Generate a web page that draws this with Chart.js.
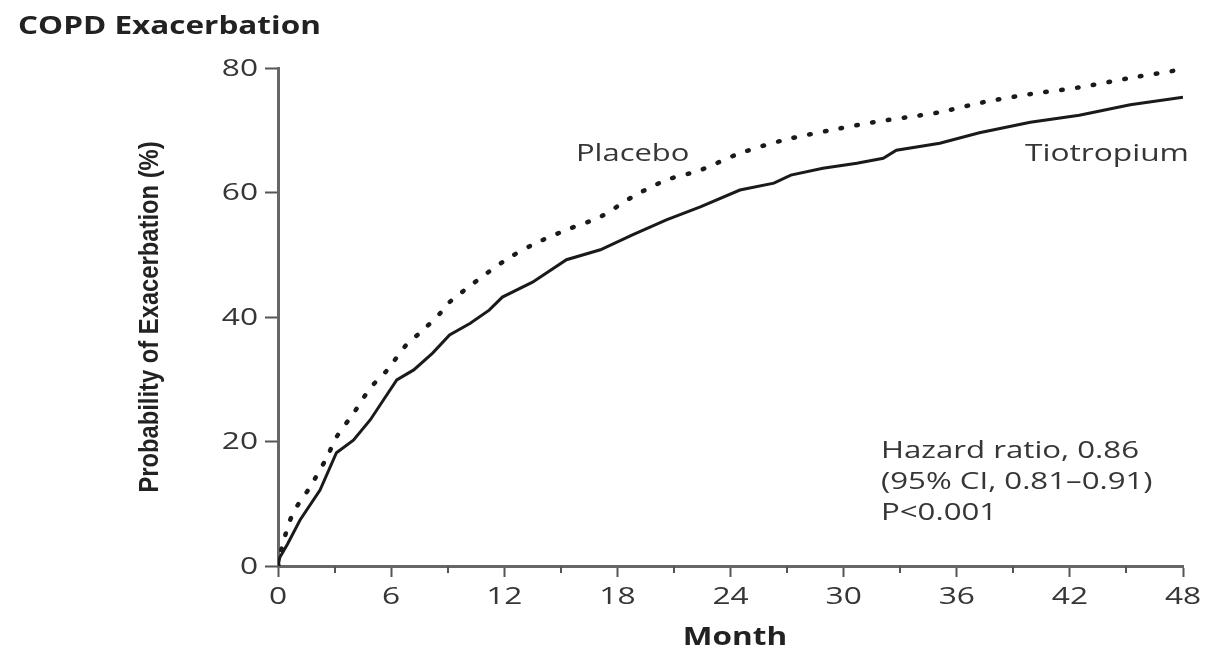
<!DOCTYPE html>
<html>
<head>
<meta charset="utf-8">
<script src="https://cdn.jsdelivr.net/npm/chart.js@4.4.1/dist/chart.umd.min.js"></script>
<style>
  html, body { margin: 0; padding: 0; background: #fff; }
  #wrap { width: 1211px; height: 653px; position: relative; }
</style>
</head>
<body>
<div id="wrap"><canvas id="km"></canvas></div>
<script>
'use strict';

// cumulative probability of a first exacerbation, by month
var tioMonths = [0, 0.1, 0.5, 1.17, 2.23, 3.1, 4.0, 4.9, 5.6, 6.3, 7.2, 8.2, 9.1, 10.2, 11.2, 11.9,
  13.5, 15.3, 17.1, 18.8, 20.6, 22.4, 24.5, 26.3, 27.2, 28.9, 30.7, 32.1, 32.8, 35.1, 37.2,
  39.9, 42.5, 45.2, 48];
var tioValues = [0, 1.4, 3.5, 7.4, 12.2, 18.2, 20.2, 23.5, 26.7, 29.9, 31.5, 34.2, 37.1, 39, 41.1, 43.2,
  45.6, 49.2, 50.8, 53.2, 55.6, 57.7, 60.4, 61.5, 62.8, 63.9, 64.7, 65.5, 66.8, 67.9, 69.6,
  71.3, 72.4, 74.1, 75.3];

var plaMonths = [0, 0.27, 0.8, 1.7, 2.6, 3.1, 4.0, 4.9, 5.8, 6.8, 7.7, 8.6, 9.1, 11.9, 13.5, 15.3,
  17.1, 18.8, 20.6, 22.4, 24.5, 26.8, 29.3, 31.6, 33.4, 35.1, 37.4, 39.9, 42.5, 45.2, 47.8];
var plaValues = [0, 3.7, 8.5, 12.7, 17.5, 20.7, 24.5, 28.6, 31.5, 35.5, 37.9, 40.6, 42.4, 48.8, 51.6, 54,
  56.1, 59.3, 62, 63.6, 66.3, 68.4, 70, 71.3, 72.1, 72.9, 74.5, 75.8, 76.9, 78.4, 79.7];

var monthTicks = [0, 6, 12, 18, 24, 30, 36, 42, 48];
var probTicks = [0, 20, 40, 60, 80];

var statLines = ['Hazard ratio, 0.86', '(95% CI, 0.81\u20130.91)', 'P<0.001'];

function toPoints(xs, ys) {
  var pts = [];
  for (var i = 0; i < xs.length; i++) {
    pts.push({x: xs[i], y: ys[i]});
  }
  return pts;
}

var FONT = '"Open Sans", "Noto Sans", sans-serif';
var TEXT = '#363636';
var WIDE = 1.32;   // the lettering is set wide

// text drawn with a horizontal stretch
function wideText(ctx, str, x, y, sx, align) {
  ctx.save();
  ctx.translate(x, y);
  ctx.scale(sx, 1);
  ctx.textAlign = align || 'left';
  ctx.fillText(str, 0, 0);
  ctx.restore();
}

// tick labels, titles, curve names, stats box and the short minor ticks
var extras = {
  id: 'extras',
  afterDraw: function(chart) {
    var ctx = chart.ctx;
    var xs = chart.scales.x, ys = chart.scales.y;
    ctx.save();

    // minor month ticks (3, 9, 15 ...)
    ctx.strokeStyle = '#555';
    ctx.lineWidth = 2;
    for (var m = 3; m < 48; m += 6) {
      var px = Math.round(xs.getPixelForValue(m));
      ctx.beginPath();
      ctx.moveTo(px, ys.bottom);
      ctx.lineTo(px, ys.bottom + 7);
      ctx.stroke();
    }

    ctx.textBaseline = 'middle';
    ctx.fillStyle = TEXT;
    ctx.font = '24px ' + FONT;
    monthTicks.forEach(function(v) {
      wideText(ctx, String(v), xs.getPixelForValue(v), 597, WIDE, 'center');
    });
    probTicks.forEach(function(v) {
      wideText(ctx, String(v), 258, ys.getPixelForValue(v) + 1, WIDE, 'right');
    });

    wideText(ctx, 'Placebo', 576, 154, 1.29);
    wideText(ctx, 'Tiotropium', 1025, 154, WIDE);
    for (var i = 0; i < statLines.length; i++) {
      wideText(ctx, statLines[i], 881, 451 + i * 31, 1.3);
    }

    ctx.fillStyle = '#222';
    ctx.font = 'bold 25px ' + FONT;
    wideText(ctx, 'COPD Exacerbation', 18, 27, 1.26);
    wideText(ctx, 'Month', 735, 638, 1.26, 'center');

    ctx.save();
    ctx.translate(151, 317);
    ctx.rotate(-Math.PI / 2);
    ctx.font = 'bold 27px "Liberation Sans Narrow", "Arial Narrow", sans-serif';
    wideText(ctx, 'Probability of Exacerbation (%)', 0, 0, 0.88, 'center');
    ctx.restore();

    ctx.restore();
  }
};

var ctx = document.getElementById('km').getContext('2d');

var kmChart = new Chart(ctx, {
  type: 'line',
  data: {
    datasets: [{
      label: 'Placebo',
      data: toPoints(plaMonths, plaValues),
      borderColor: '#1a1a1a',
      borderWidth: 4.5,
      borderDash: [1.5, 14.5],
      borderCapStyle: 'round',
      pointRadius: 0,
      tension: 0.3,
      fill: false
    }, {
      label: 'Tiotropium',
      data: toPoints(tioMonths, tioValues),
      borderColor: '#1a1a1a',
      borderWidth: 3,
      pointRadius: 0,
      tension: 0,
      fill: false
    }]
  },
  options: {
    responsive: true,
    maintainAspectRatio: false,
    animation: false,
    layout: {padding: {top: 68, right: 28, left: 0, bottom: 0}},
    plugins: {legend: {display: false}, tooltip: {enabled: false}},
    scales: {
      x: {
        type: 'linear',
        min: 0,
        max: 48,
        afterFit: function(s) { s.height = 87; },
        afterBuildTicks: function(s) {
          s.ticks = monthTicks.map(function(v) { return {value: v}; });
        },
        ticks: {display: false},
        border: {color: '#666', width: 3},
        grid: {
          drawOnChartArea: false,
          tickLength: 11,
          tickWidth: 2,
          tickColor: '#555'
        }
      },
      y: {
        min: 0,
        max: 80,
        afterFit: function(s) { s.width = 278; },
        afterBuildTicks: function(s) {
          s.ticks = probTicks.map(function(v) { return {value: v}; });
        },
        ticks: {display: false},
        border: {color: '#666', width: 3},
        grid: {
          drawOnChartArea: false,
          tickLength: 13,
          tickWidth: 2,
          tickColor: '#555'
        }
      }
    }
  },
  plugins: [extras]
});
</script>
</body>
</html>
